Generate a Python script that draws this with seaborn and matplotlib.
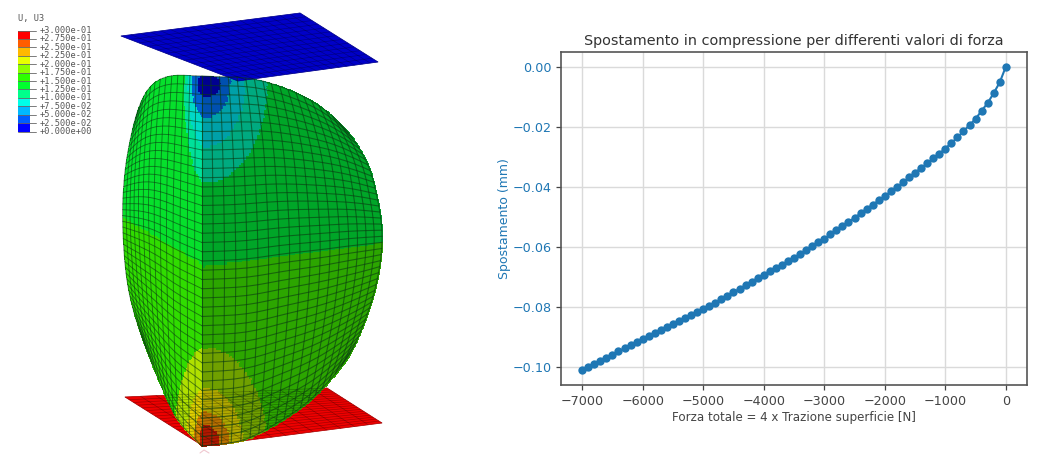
import numpy as np
import matplotlib
matplotlib.use('Agg')
import matplotlib.pyplot as plt
import seaborn as sns

# right chart values, one point every 100 N
forza = list(range(0, -7100, -100))
spostamento = [
    0.0, -.0052, -.0088, -.0121, -.0147, -.0174, -.0195, -.0215, -.0236, -.0254,
    -.0273, -.0290, -.0306, -.0322, -.0338, -.0353, -.0369, -.0386, -.0401, -.0416,
    -.0431, -.0446, -.0460, -.0474, -.0489, -.0504, -.0518, -.0532, -.0546, -.0559,
    -.0573, -.0586, -.0599, -.0612, -.0625, -.0637, -.0649, -.0660, -.0671, -.0682,
    -.0693, -.0705, -.0717, -.0729, -.0741, -.0752, -.0763, -.0775, -.0787, -.0798,
    -.0809, -.0819, -.0829, -.0839, -.0849, -.0859, -.0869, -.0879, -.0889, -.0899,
    -.0909, -.0919, -.0929, -.0939, -.0949, -.0960, -.0970, -.0980, -.0991, -.1001,
    -.1011,
]

# contour legend of the left picture
legend_labels = ['+3.000e-01', '+2.750e-01', '+2.500e-01', '+2.250e-01', '+2.000e-01',
                 '+1.750e-01', '+1.500e-01', '+1.250e-01', '+1.000e-01', '+7.500e-02',
                 '+5.000e-02', '+2.500e-02', '+0.000e+00']
legend_colors = ['#ff0000', '#ff5d00', '#ffb900', '#e8ff00', '#8bff00', '#2eff00',
                 '#00ff2e', '#00ff8b', '#00ffe8', '#00b9ff', '#005dff', '#0000ff']

# outlines of the mesh picture, in image pixels
plate_top = [(121, 36), (300, 13), (378, 62), (238, 81)]
plate_bottom = [(125, 397), (203, 446), (382, 423), (327, 388)]
ridge = [(202, 76), (202, 446)]
outline_right = [(202, 76), (258, 80), (310, 100), (345, 129), (367, 163), (377, 197), (382, 233),
                 (379, 270), (368, 312), (347, 358), (310, 400), (270, 427), (240, 441), (202, 446)]
outline_left = [(202, 76), (170, 76), (150, 87), (137, 113), (127, 157), (123, 197), (123, 233),
                (126, 273), (132, 305), (143, 340), (160, 383), (178, 420), (202, 446)]
# index of the two mesh corners on each outline
corners_right = (3, 9)
corners_left = (3, 9)

# (half width, half height, colour) of the contour rings round the two contact points
rings_top_right = [(62, 98, '#00aa80'), (40, 62, '#00a0a8'), (25, 33, '#0050b0'), (15, 12, '#000090')]
rings_top_left = [(22, 98, '#00e09a'), (18, 62, '#00d8c8'), (14, 33, '#0060d0'), (8, 12, '#0000a0')]
rings_bot_right = [(62, 98, '#70a000'), (38, 58, '#b0a800'), (25, 34, '#b87000'), (15, 21, '#b01800')]
rings_bot_left = [(32, 98, '#b0e000'), (20, 58, '#e0d000'), (13, 34, '#d88000'), (7, 21, '#c02000')]

TOP_POLE = (205, 85)
BOT_POLE = (205, 446)
DENSE = 10


def smooth(points):
    # catmull-rom through the read outline points
    p = np.array(points, dtype=float)
    p = np.vstack([2 * p[0] - p[1], p, 2 * p[-1] - p[-2]])
    out = []
    for i in range(1, len(p) - 2):
        for t in np.arange(DENSE) / DENSE:
            out.append(0.5 * (2 * p[i] + (p[i + 1] - p[i - 1]) * t
                              + (2 * p[i - 1] - 5 * p[i] + 4 * p[i + 1] - p[i + 2]) * t ** 2
                              + (3 * p[i] - p[i - 1] - 3 * p[i + 1] + p[i + 2]) * t ** 3))
    out.append(p[-2])
    return np.array(out)


def along(pts, t):
    pts = np.asarray(pts, dtype=float)
    s = np.r_[0, np.cumsum(np.hypot(*np.diff(pts, axis=0).T))]
    s = s / s[-1]
    return np.c_[np.interp(t, s, pts[:, 0]), np.interp(t, s, pts[:, 1])]


def coons(ridge_pts, outline, corners, nrows, ncols):
    # patch between four curves, so the cells stay square like the real mesh
    curve = smooth(outline)
    a, b = corners[0] * DENSE, corners[1] * DENSE
    top, side, bottom = curve[:a + 1], curve[a:b + 1], curve[b:][::-1]
    v = np.linspace(0, 1, nrows + 1)
    u = np.linspace(0, 1, ncols + 1)
    W_, E_ = along(ridge_pts, v), along(side, v)
    N_, S_ = along(top, u), along(bottom, u)
    out = []
    for k in range(2):
        A = np.outer(W_[:, k], 1 - u) + np.outer(E_[:, k], u)
        B = np.outer(1 - v, N_[:, k]) + np.outer(v, S_[:, k])
        C = (np.outer(1 - v, 1 - u) * W_[0, k] + np.outer(1 - v, u) * E_[0, k]
             + np.outer(v, 1 - u) * W_[-1, k] + np.outer(v, u) * E_[-1, k])
        out.append(A + B - C)
    return out


def subdivide(A, n):
    rows = np.linspace(0, A.shape[0] - 1, (A.shape[0] - 1) * n + 1)
    cols = np.linspace(0, A.shape[1] - 1, (A.shape[1] - 1) * n + 1)
    by_col = np.array([np.interp(rows, np.arange(A.shape[0]), A[:, j]) for j in range(A.shape[1])]).T
    return np.array([np.interp(cols, np.arange(A.shape[1]), r) for r in by_col])


def draw_face(ax, X, Y, base_up, base_low, split, rings_t, rings_b, line_lw):
    xf, yf = subdivide(X, 4), subdivide(Y, 4)
    xc = (xf[:-1, :-1] + xf[1:, 1:]) / 2
    yc = (yf[:-1, :-1] + yf[1:, 1:]) / 2

    colors = [base_up, base_low]
    idx = np.where(yc < split(xc), 0, 1)
    for rings, pole in ((rings_t, TOP_POLE), (rings_b, BOT_POLE)):
        for a, b, col in rings:
            colors.append(col)
            inside = ((xc - pole[0]) / a) ** 2 + ((yc - pole[1]) / b) ** 2 < 1
            idx[inside] = len(colors) - 1
    cmap = matplotlib.colors.ListedColormap(colors)
    ax.pcolormesh(xf, yf, idx, cmap=cmap, vmin=-0.5, vmax=len(colors) - 0.5,
                  shading='flat', linewidth=0.4, edgecolors='face')
    ax.plot(X, Y, color='#0a3a12', lw=line_lw, alpha=0.6, solid_capstyle='round')
    ax.plot(X.T, Y.T, color='#0a3a12', lw=line_lw, alpha=0.6, solid_capstyle='round')


def draw_plate(ax, corners, color, nx=18, ny=13):
    c = np.array(corners, dtype=float)
    s = np.linspace(0, 1, nx + 1)[:, None]
    t = np.linspace(0, 1, ny + 1)
    a = c[0] + s * (c[1] - c[0])
    b = c[3] + s * (c[2] - c[3])
    X = np.outer(a[:, 0], 1 - t) + np.outer(b[:, 0], t)
    Y = np.outer(a[:, 1], 1 - t) + np.outer(b[:, 1], t)
    ax.fill(c[:, 0], c[:, 1], color=color, lw=0.5)
    ax.plot(X, Y, color='black', lw=0.5, alpha=0.3)
    ax.plot(X.T, Y.T, color='black', lw=0.5, alpha=0.3)


sns.set_theme(style='ticks', rc={'axes.edgecolor': '#555555', 'axes.linewidth': 1.2})
plt.rcParams['font.family'] = ['DejaVu Sans']

W, H = 1042, 457
fig = plt.figure(figsize=(W / 100, H / 100), dpi=100)

# left picture, drawn in image pixels
img = fig.add_axes([0, 0, 1, 1])
img.set_xlim(0, W)
img.set_ylim(H, 0)
img.axis('off')

draw_plate(img, plate_bottom, '#ee0000')
rx, ry = coons(ridge, outline_right, corners_right, 40, 18)
lx, ly = coons(ridge, outline_left, corners_left, 40, 14)
draw_face(img, rx, ry, '#00a628', '#2ca600',
          lambda x: 267 - (x - 202) * 24 / 180, rings_top_right, rings_bot_right, 0.8)
draw_face(img, lx, ly, '#06e02c', '#30dc00',
          lambda x: 265 - (202 - x) * 47 / 79, rings_top_left, rings_bot_left, 0.65)
img.plot([200, 204, 209], [453, 450, 453], color='#f0c8d0', lw=0.8)
draw_plate(img, plate_top, '#0000c8')

# contour legend
bar_top, bar_h = 30.5, 101 / 12
for i, col in enumerate(legend_colors):
    img.fill([18, 30, 30, 18], [bar_top + i * bar_h, bar_top + i * bar_h,
                                bar_top + (i + 1) * bar_h, bar_top + (i + 1) * bar_h],
             color=col, lw=0)
for i, lab in enumerate(legend_labels):
    y = bar_top + i * bar_h
    img.plot([18, 36], [y, y], color='#666666', lw=0.6)
    img.text(40, y, lab, fontsize=6.2, family='DejaVu Sans Mono', color='#555555', va='center')
img.text(18, 18, 'U, U3', fontsize=6.2, family='DejaVu Sans Mono', color='#555555', va='center')

# right chart
ax = fig.add_axes([561 / W, 1 - 385 / H, (1027 - 561) / W, (385 - 51.7) / H])
sns.lineplot(x=forza, y=spostamento, marker='o', markersize=6, markeredgewidth=0,
             markeredgecolor='tab:blue', color='tab:blue', linewidth=1.5, errorbar=None, ax=ax)
ax.set_xlim(-7350, 350)
ax.set_ylim(-0.1061, 0.0050)
ax.set_xticks(range(-7000, 1000, 1000))
ax.set_yticks([0, -0.02, -0.04, -0.06, -0.08, -0.10])
ax.set_yticklabels(['0.00', '\u22120.02', '\u22120.04', '\u22120.06', '\u22120.08', '\u22120.10'])
ax.grid(True, color='#dadada', linewidth=1.0)
ax.set_axisbelow(True)
ax.tick_params(axis='x', labelsize=9.2, colors='#444444', length=3.5, width=0.9)
ax.tick_params(axis='y', labelsize=9.2, labelcolor='tab:blue', color='#444444', length=3.5, width=0.9)
ax.set_xlabel('Forza totale = 4 x Trazione superficie [N]', fontsize=8.6, color='#444444', labelpad=2)
ax.set_ylabel('Spostamento (mm)', fontsize=9, color='tab:blue', labelpad=1)
ax.set_title('Spostamento in compressione per differenti valori di forza', fontsize=10.4,
             color='#333333', pad=5)

plt.savefig('out.png', dpi=100)
